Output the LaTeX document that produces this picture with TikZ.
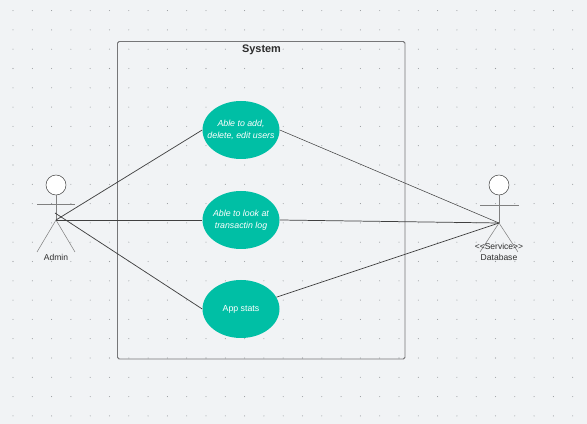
\documentclass[tikz,border=0pt]{standalone}
\usepackage{fontspec}
\setmainfont{Liberation Sans}
\usetikzlibrary{shapes.geometric}
\definecolor{canvasbg}{RGB}{241,243,245}
\definecolor{griddot}{RGB}{150,153,156}
\definecolor{usecasefill}{RGB}{0,191,165}
\definecolor{framecol}{RGB}{118,118,120}
\definecolor{textcol}{RGB}{45,45,45}
\tikzset{
    usecase/.style={ellipse, fill=usecasefill, text=white, minimum width=57.75pt, minimum height=43.5pt, inner xsep=-12pt, inner ysep=0pt, align=center, font=\fontsize{6.6pt}{9pt}\selectfont\itshape},
    actorline/.style={draw=black!50, line width=0.4pt},
    assoc/.style={draw=black!75, line width=0.55pt},
    actorlabel/.style={text=textcol, inner sep=0pt, align=center, font=\fontsize{6.4pt}{7.6pt}\selectfont},
    actorhead/.style={circle, draw=black!70, fill=white, line width=0.4pt, minimum size=15pt, inner sep=0pt}
}
\begin{document}
\begin{tikzpicture}[x=0.75pt, y=-0.75pt]
    \useasboundingbox (0, 0) rectangle (587, 424);
    \fill[canvasbg] (0, 0) rectangle (587, 424);
    \foreach \i in {0,...,30} {
        \foreach \j in {0,...,21} {
            \fill[griddot] ({13 + 19.3*\i}, {10.6 + 19.3*\j}) circle (0.4pt);
        }
    }

    % system frame
    \draw[framecol, line width=0.7pt, rounded corners=1.2pt] (117.5, 41.5) rectangle (405, 359);
    \node[text=textcol, inner sep=0pt, font=\fontsize{8.2pt}{10pt}\selectfont\bfseries] (title) at (261.5, 49.5) {System};

    % use cases
    \node[usecase] (uc1) at (241, 130) {Able to add,\\delete, edit users};
    \node[usecase] (uc2) at (241, 220) {Able to look at\\transactin log};
    \node[usecase, font=\fontsize{6.6pt}{9pt}\selectfont] (uc3) at (241, 309) {App stats};

    % admin
    \node[actorhead] (adminhead) at (56, 185) {};
    \coordinate (adminhip) at (56, 220);
    \coordinate (adminhand1) at (37, 204);
    \coordinate (adminhand2) at (75, 204);
    \coordinate (adminfoot1) at (37, 252);
    \coordinate (adminfoot2) at (75, 252);
    \coordinate (adminchest) at (55, 213);
    \draw[actorline] (adminhead) -- (adminhip);
    \draw[actorline] (adminhand1) -- (adminhand2);
    \draw[actorline] (adminhip) -- (adminfoot1);
    \draw[actorline] (adminhip) -- (adminfoot2);
    \node[actorlabel] (admin) at (56, 257) {Admin};

    % database
    \node[actorhead] (dbhead) at (499, 185) {};
    \coordinate (dbhip) at (499, 223);
    \coordinate (dbhand1) at (480, 205);
    \coordinate (dbhand2) at (519, 205);
    \coordinate (dbfoot1) at (480, 252);
    \coordinate (dbfoot2) at (518, 252);
    \draw[actorline] (dbhead) -- (dbhip);
    \draw[actorline] (dbhand1) -- (dbhand2);
    \draw[actorline] (dbhip) -- (dbfoot1);
    \draw[actorline] (dbhip) -- (dbfoot2);
    \node[actorlabel] (db) at (499, 252) {<{}<Service>{}>\\Database};

    % associations
    \draw[assoc] (adminhip) -- (uc1.west);
    \draw[assoc] (adminhip) -- (uc2.west);
    \draw[assoc] (adminchest) -- (uc3.west);
    \draw[assoc, line width=0.4pt] (uc1.east) -- (dbhip);
    \draw[assoc] (uc2.east) -- (dbhip);
    \draw[assoc] (uc3) -- (dbhip);
\end{tikzpicture}
\end{document}
